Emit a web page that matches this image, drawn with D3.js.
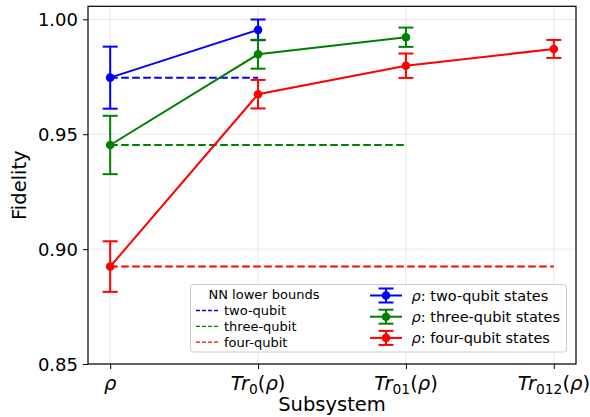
<!DOCTYPE html>
<html>
<head>
<meta charset="utf-8">
<script src="https://cdn.jsdelivr.net/npm/d3@7"></script>
<style>
  html, body { margin: 0; padding: 0; background: #fff; }
  svg { display: block; font-family: "DejaVu Sans", sans-serif; }
</style>
</head>
<body>
<svg id="chart" width="590" height="417"></svg>
<script>
// ---------- data ----------
const categories = ["ρ", "Tr_0(ρ)", "Tr_01(ρ)", "Tr_012(ρ)"];
const yTicks = [0.85, 0.90, 0.95, 1.00];

const twoQubit   = [0.9746, 0.9954];
const twoErr     = [0.0135, 0.0045];
const threeQubit = [0.9453, 0.9848, 0.9922];
const threeErr   = [0.0127, 0.0063, 0.0042];
const fourQubit  = [0.8924, 0.9674, 0.9798, 0.9871];
const fourErr    = [0.0110, 0.0062, 0.0053, 0.0039];

const boundValues = [0.9746, 0.9453, 0.8924];
const boundEndIdx = [1, 2, 3];
const boundLabels = ["two-qubit", "three-qubit", "four-qubit"];
const seriesLabels = ["two-qubit states", "three-qubit states", "four-qubit states"];
const colors = ["#0000ff", "#008000", "#ff0000"];

// ---------- layout ----------
const svg = d3.select("#chart");
const L = 88, R = 576, T = 6.3, B = 364;

const x = d3.scaleLinear().domain([-0.15, 3.15]).range([L, R]);
const y = d3.scaleLinear().domain([0.85, 1.00565]).range([B, T]);

// grid
const grid = svg.append("g");
grid.selectAll("line.gx").data(d3.range(categories.length)).enter().append("line")
  .attr("x1", d => x(d)).attr("x2", d => x(d)).attr("y1", T).attr("y2", B)
  .attr("stroke", "#b0b0b0").attr("stroke-opacity", 0.3).attr("stroke-width", 1);
grid.selectAll("line.gy").data(yTicks).enter().append("line")
  .attr("x1", L).attr("x2", R).attr("y1", d => y(d)).attr("y2", d => y(d))
  .attr("stroke", "#b0b0b0").attr("stroke-opacity", 0.3).attr("stroke-width", 1);

// axes via d3
const yAxis = d3.axisLeft(y).tickValues(yTicks).tickFormat(d3.format(".2f")).tickSize(5).tickPadding(5);
const gy = svg.append("g").attr("transform", `translate(${L},0)`).call(yAxis);
gy.select(".domain").remove();
gy.selectAll(".tick line").attr("stroke", "#000").attr("stroke-width", 1);
gy.selectAll(".tick text").attr("font-size", 18).attr("font-family", "DejaVu Sans")
  .attr("fill", "#000").attr("dy", null).attr("dominant-baseline", "central").attr("y", 0);

const xAxis = d3.axisBottom(x).tickValues(d3.range(categories.length)).tickFormat("").tickSize(5);
const gx = svg.append("g").attr("transform", `translate(0,${B})`).call(xAxis);
gx.select(".domain").remove();
gx.selectAll(".tick line").attr("stroke", "#000").attr("stroke-width", 1);

// x tick labels with math-like formatting
categories.forEach((c, i) => {
  const t = svg.append("text").attr("x", x(i)).attr("y", 390)
    .attr("text-anchor", "middle").attr("font-size", 19.5).attr("fill", "#000");
  const m = c.match(/^Tr_(\d+)\((.)\)$/);
  if (!m) {
    t.append("tspan").attr("font-style", "italic").text(c);
  } else {
    t.append("tspan").attr("font-style", "italic").text("Tr");
    t.append("tspan").attr("font-size", 13.8).attr("dy", 3.8).text(m[1]);
    t.append("tspan").attr("dy", -3.8).text("(");
    t.append("tspan").attr("font-style", "italic").text(m[2]);
    t.append("tspan").text(")");
  }
});

// axis labels
svg.append("text").attr("x", (L + R) / 2).attr("y", 411).attr("text-anchor", "middle")
  .attr("font-size", 19.5).attr("fill", "#000").text("Subsystem");
svg.append("text").attr("transform", `translate(25.5,${(T + B) / 2}) rotate(-90)`)
  .attr("text-anchor", "middle").attr("font-size", 19.5).attr("fill", "#000").text("Fidelity");

// ---------- marks ----------
const series = [
  { v: twoQubit, e: twoErr },
  { v: threeQubit, e: threeErr },
  { v: fourQubit, e: fourErr }
];
const line = d3.line().x((d, i) => x(i)).y(d => y(d));
const plot = svg.append("g");

// dashed lower bounds
boundValues.forEach((b, k) => {
  plot.append("line").attr("x1", x(0)).attr("x2", x(boundEndIdx[k]))
    .attr("y1", y(b)).attr("y2", y(b))
    .attr("stroke", colors[k]).attr("stroke-width", 2).attr("stroke-dasharray", "7.6,3.4");
});

series.forEach((s, k) => {
  const c = colors[k];
  plot.append("path").datum(s.v).attr("d", line).attr("fill", "none")
    .attr("stroke", c).attr("stroke-width", 2);
  s.v.forEach((v, i) => {
    const cx = x(i), y1 = y(v + s.e[i]), y2 = y(v - s.e[i]);
    plot.append("line").attr("x1", cx).attr("x2", cx).attr("y1", y1).attr("y2", y2)
      .attr("stroke", c).attr("stroke-width", 2);
    [y1, y2].forEach(yy => plot.append("line").attr("x1", cx - 7.5).attr("x2", cx + 7.5)
      .attr("y1", yy).attr("y2", yy).attr("stroke", c).attr("stroke-width", 2));
    plot.append("circle").attr("cx", cx).attr("cy", y(v)).attr("r", 4.3).attr("fill", c);
  });
});

// frame
svg.append("rect").attr("x", L).attr("y", T).attr("width", R - L).attr("height", B - T)
  .attr("fill", "none").attr("stroke", "#000").attr("stroke-width", 1.2);

// ---------- legend ----------
const lg = svg.append("g");
lg.append("rect").attr("x", 190.5).attr("y", 284.5).attr("width", 376).attr("height", 67.5)
  .attr("rx", 3).attr("fill", "#fff").attr("fill-opacity", 0.8)
  .attr("stroke", "#cccccc").attr("stroke-width", 1);

lg.append("text").attr("x", 264).attr("y", 298.5).attr("text-anchor", "middle")
  .attr("font-size", 13).attr("fill", "#000").text("NN lower bounds");
boundLabels.forEach((lab, k) => {
  const by = 315 + 15.8 * k;
  lg.append("line").attr("x1", 196).attr("x2", 218).attr("y1", by - 4.5).attr("y2", by - 4.5)
    .attr("stroke", colors[k]).attr("stroke-width", 1.3).attr("stroke-dasharray", "4,2");
  lg.append("text").attr("x", 224).attr("y", by).attr("font-size", 13).attr("fill", "#000").text(lab);
});

seriesLabels.forEach((lab, k) => {
  const by = 301 + 21.2 * k;
  const cy = by - 5.5, cx = 386, c = colors[k];
  lg.append("line").attr("x1", 370).attr("x2", 402).attr("y1", cy).attr("y2", cy)
    .attr("stroke", c).attr("stroke-width", 2);
  lg.append("line").attr("x1", cx).attr("x2", cx).attr("y1", cy - 7).attr("y2", cy + 7)
    .attr("stroke", c).attr("stroke-width", 2);
  [cy - 7, cy + 7].forEach(yy => lg.append("line").attr("x1", cx - 7.5).attr("x2", cx + 7.5)
    .attr("y1", yy).attr("y2", yy).attr("stroke", c).attr("stroke-width", 2));
  lg.append("circle").attr("cx", cx).attr("cy", cy).attr("r", 4.3).attr("fill", c);
  const t = lg.append("text").attr("x", 411.5).attr("y", by).attr("font-size", 14.5).attr("fill", "#000");
  t.append("tspan").attr("font-style", "italic").text("ρ");
  t.append("tspan").text(": " + lab);
});
</script>
</body>
</html>
